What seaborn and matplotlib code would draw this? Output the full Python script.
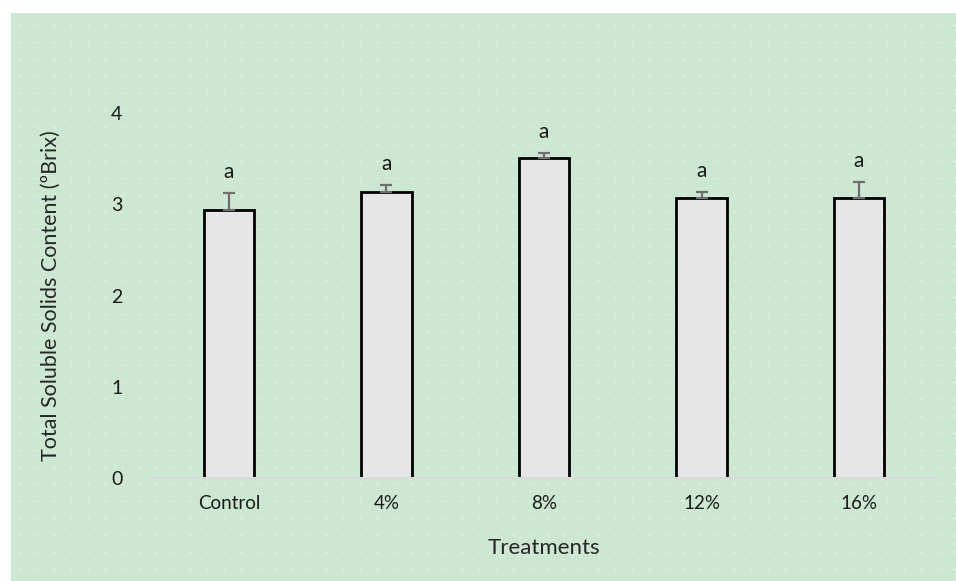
# -------------------------------------------------------
# bar chart of total soluble solids per treatment
# -------------------------------------------------------

import seaborn as sns
import matplotlib.pyplot as plt
import numpy as np
import pandas as pd

treatments = ['Control', '4%', '8%', '12%', '16%']
tss_mean = [2.94, 3.13, 3.51, 3.07, 3.07]
tss_err = [0.18, 0.08, 0.05, 0.06, 0.17]
letters = ['a', 'a', 'a', 'a', 'a']

sns.set_style('white')
plt.rcParams['font.family'] = ['Lato', 'DejaVu Sans']

fig = plt.figure(figsize=(9.56, 5.81), dpi=100)
fig.patch.set_facecolor('white')

# green dotted background panel (pixel coordinates)
bg = fig.add_axes([0, 0, 1, 1], zorder=-1)
bg.set_xlim(0, 956)
bg.set_ylim(581, 0)
bg.axis('off')
bg.add_patch(plt.Rectangle((11, 13), 945, 568, color='#cde8d2', lw=0))
gx, gy = np.meshgrid(np.arange(20, 956, 17), np.arange(25, 581, 17))
bg.scatter(gx.ravel(), gy.ravel(), s=2.5, color='#e6ede8', lw=0)
gx2, gy2 = np.meshgrid(np.arange(28, 956, 17), np.arange(17, 581, 17))
bg.scatter(gx2.ravel(), gy2.ravel(), s=1.5, color='#dbeadd', lw=0)

ax = fig.add_axes([0.157, 0.1773, 0.824, 0.628])
ax.set_facecolor('none')

df = pd.DataFrame({'Treatment': treatments, 'TSS': tss_mean})
sns.barplot(data=df, x='Treatment', y='TSS', color='#e6e6e6', edgecolor='black',
            linewidth=2, width=0.32, saturation=1, ax=ax, zorder=2)

xpos = np.arange(len(treatments))
ax.errorbar(xpos, tss_mean, yerr=[np.zeros(len(tss_err)), tss_err], fmt='none',
            ecolor='#6e6e6e', elinewidth=1.6, capsize=4.5, capthick=1.6, zorder=3)

for x, m, e, t in zip(xpos, tss_mean, tss_err, letters):
    ax.annotate(t, (x, m + e), xytext=(0, 11), textcoords='offset points',
                ha='center', va='baseline', fontsize=15, color='#1a1a1a')

ax.set_xlim(-0.5, 4.5)
ax.set_ylim(0, 4)
ax.set_yticks([0, 1, 2, 3, 4])
ax.set_xlabel('Treatments', fontsize=16, labelpad=19)
ax.set_ylabel('Total Soluble Solids Content (ºBrix)', fontsize=15.5, labelpad=36)

for s in ['top', 'right', 'left']:
    ax.spines[s].set_visible(False)
ax.spines['bottom'].set_color('#d9d9d9')
ax.spines['bottom'].set_linewidth(1.5)
ax.spines['bottom'].set_zorder(4)

ax.tick_params(axis='x', length=0, pad=12, labelsize=13.5, labelcolor='#1a1a1a')
ax.tick_params(axis='y', length=0, pad=20, labelsize=14, labelcolor='#1a1a1a')

fig.savefig('out.png', dpi=100)
